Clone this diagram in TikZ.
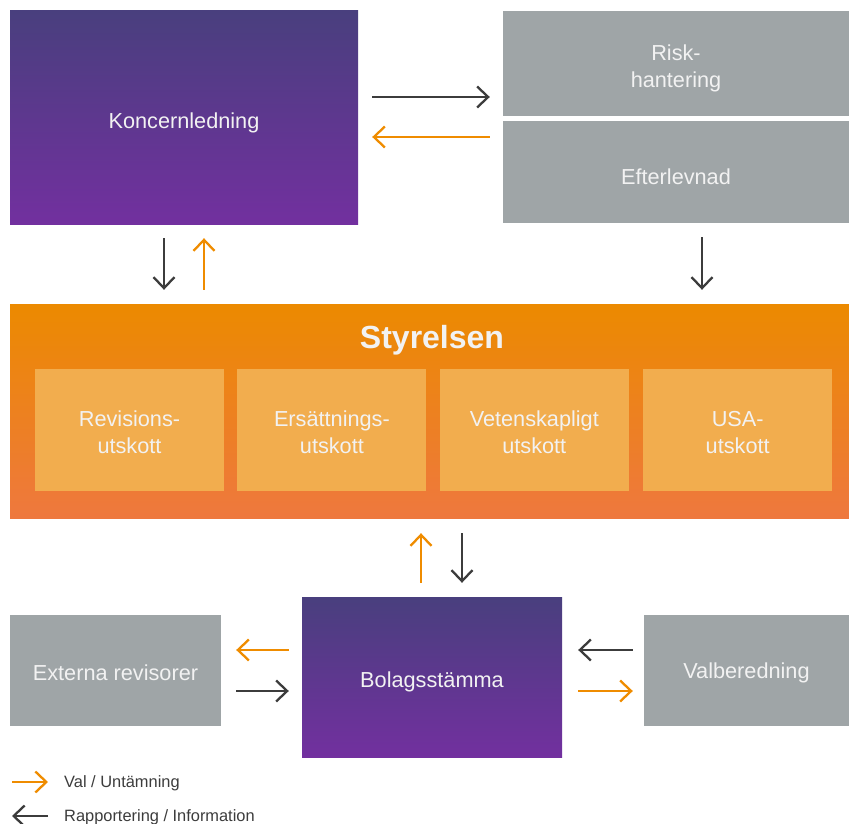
\documentclass[tikz,border=0pt]{standalone}
\usepackage{fontspec}
\setmainfont{Liberation Sans}
\usetikzlibrary{arrows.meta,positioning,calc}

\definecolor{purpleTop}{HTML}{493F7E}
\definecolor{purpleBot}{HTML}{72309F}
\definecolor{orangeTop}{HTML}{EC8A00}
\definecolor{orangeBot}{HTML}{EE783E}
\definecolor{subOrange}{HTML}{F2AD4E}
\definecolor{boxGray}{HTML}{9FA5A7}
\definecolor{repGray}{HTML}{3C3C3C}
\definecolor{valOrange}{HTML}{EF8C00}

\begin{document}
\begin{tikzpicture}[
        x=1pt, y=-1pt,
        box/.style={rectangle, inner sep=0pt, text=white!95!black, font=\fontsize{21.7}{27}\selectfont, align=center},
        boxlabel/.style={label={[box, yshift=-5pt]center:{#1}}},
        sublabel/.style={label={[box, yshift=-2.5pt]center:{#1}}},
        purplebox/.style={box, top color=purpleTop, bottom color=purpleBot},
        graybox/.style={box, fill=boxGray},
        subbox/.style={box, fill=subOrange, minimum width=189pt, minimum height=122pt},
        arrow/.style={-{Straight Barb[length=11pt,width=21pt]}, line width=2.3pt},
        rep/.style={arrow, draw=repGray},
        val/.style={arrow, draw=valOrange},
        legend/.style={anchor=west, inner sep=0pt, text=repGray, font=\fontsize{16.4}{19}\selectfont}
    ]
        \useasboundingbox (0,0) rectangle (849,824);

        % Nodes
        \node[purplebox, minimum width=348pt, minimum height=213pt, boxlabel={Koncernledning}] (kl) at (184,117.5) {};
        \node[graybox, minimum width=346pt, minimum height=105pt, boxlabel={Risk-\\hantering}] (risk) at (676,63.5) {};
        \node[graybox, minimum width=346pt, minimum height=102pt, boxlabel={Efterlevnad}] (eft) at (676,172) {};

        \node[box, top color=orangeTop, bottom color=orangeBot, minimum width=839pt, minimum height=214pt] (styr) at (429.5,411) {};
        \node[box, font=\bfseries\fontsize{32}{36}\selectfont] (styrtitle) at (432,340.5) {Styrelsen};
        \node[subbox, sublabel={Revisions-\\utskott}] (rev) at (129.5,430) {};
        \node[subbox, right=13pt of rev, sublabel={Ersättnings-\\utskott}] (ers) {};
        \node[subbox, right=13pt of ers, sublabel={Vetenskapligt\\utskott}] (vet) {};
        \node[subbox, right=14pt of vet, sublabel={USA-\\utskott}] (usa) {};

        \node[purplebox, minimum width=260pt, minimum height=160pt, boxlabel={Bolagsstämma}] (bol) at (432,677) {};
        \node[graybox, minimum width=211pt, minimum height=111pt, sublabel={Externa revisorer}] (ext) at (115.5,670.5) {};
        \node[graybox, minimum width=205pt, minimum height=111pt, sublabel={Valberedning}] (valb) at (746.5,670.5) {};

        % Arrows
        \draw[rep, shorten <=14pt, shorten >=13pt] ([yshift=20.5pt]kl.east) -- ([yshift=20.5pt]kl.east -| risk.west);
        \draw[val, shorten <=13pt, shorten >=14pt] ([yshift=-19.5pt]kl.east -| eft.west) -- ([yshift=-19.5pt]kl.east);
        \draw[rep, shorten <=14pt, shorten >=14pt] ([xshift=-20pt]kl.south) -- ([xshift=-20pt]kl.south |- styr.north);
        \draw[val, shorten <=14pt, shorten >=14pt] ([xshift=20pt]kl.south |- styr.north) -- ([xshift=20pt]kl.south);
        \draw[rep, shorten <=14pt, shorten >=14pt] ([xshift=26pt]eft.south) -- ([xshift=26pt]eft.south |- styr.north);

        \draw[val, shorten <=14pt, shorten >=15pt] ([xshift=-11pt]bol.north) -- ([xshift=-11pt]bol.north |- styr.south);
        \draw[rep, shorten <=15pt, shorten >=14pt] ([xshift=30pt]bol.north |- styr.south) -- ([xshift=30pt]bol.north);

        \draw[val, shorten <=13pt, shorten >=15pt] ([yshift=20.5pt]ext.east -| bol.west) -- ([yshift=20.5pt]ext.east);
        \draw[rep, shorten <=15pt, shorten >=13pt] ([yshift=-20.5pt]ext.east) -- ([yshift=-20.5pt]ext.east -| bol.west);
        \draw[rep, shorten <=11pt, shorten >=16pt] ([yshift=20.5pt]valb.west) -- ([yshift=20.5pt]valb.west -| bol.east);
        \draw[val, shorten <=16pt, shorten >=11pt] ([yshift=-20.5pt]valb.west -| bol.east) -- ([yshift=-20.5pt]valb.west);

        % Legend
        \coordinate (valA) at (12,782);
        \coordinate (valB) at (48,782);
        \coordinate (repA) at (48,816);
        \coordinate (repB) at (12,816);
        \draw[val] (valA) -- (valB);
        \draw[rep] (repA) -- (repB);
        \node[legend] (valtxt) at (64,783) {Val / Untämning};
        \node[legend] (reptxt) at (64,817.5) {Rapportering / Information};
    \end{tikzpicture}
\end{document}
